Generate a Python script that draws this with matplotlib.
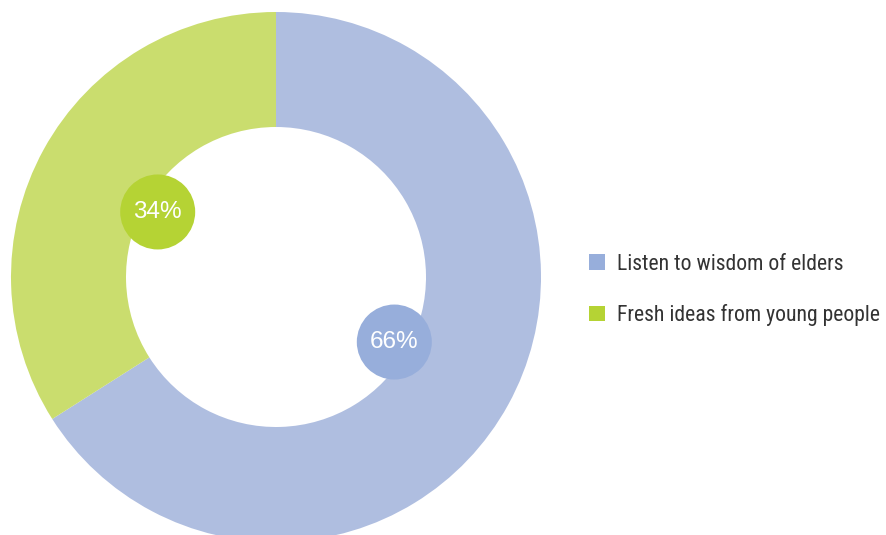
import numpy as np
import matplotlib.pyplot as plt
from matplotlib.patches import Patch, Circle
from matplotlib import font_manager

labels = ["Listen to wisdom of elders", "Fresh ideas from young people"]
values = [66, 34]
wedge_colors = ["#AFBEE0", "#CADD6E"]
badge_colors = ["#97AEDB", "#B5D334"]

names = {f.name for f in font_manager.fontManager.ttflist}
narrow = [n for n in ["Roboto Condensed", "Liberation Sans Narrow", "Roboto"] if n in names]

fig = plt.figure(figsize=(8.86, 5.35), dpi=100)
ax = fig.add_axes([0, 0, 1, 1])

cx, cy = 276, 258
R, width = 265, 115

ax.pie(values, colors=wedge_colors, startangle=90, counterclock=False,
       center=(cx, cy), radius=R, wedgeprops=dict(width=width, linewidth=0),
       frame=True)
ax.set_xlim(0, 886)
ax.set_ylim(0, 535)
ax.set_aspect("equal")
ax.axis("off")

# percentage badges sitting on the inner edge of the ring
start = 90
for v, c in zip(values, badge_colors):
    mid = np.deg2rad(start - v / sum(values) * 360 / 2)
    start -= v / sum(values) * 360
    bx = cx + 135 * np.cos(mid)
    by = cy + 135 * np.sin(mid)
    ax.add_patch(Circle((bx, by), 37.5, color=c, lw=0, zorder=3))
    ax.text(bx, by, f"{v}%", color="white", fontsize=17.5,
            family=["Liberation Sans", "DejaVu Sans"],
            ha="center", va="center", zorder=4)

fs = 15.7
handles = [Patch(facecolor=c, edgecolor="none") for c in badge_colors]
leg = ax.legend(handles, labels, loc="center left",
                bbox_to_anchor=(569 / 886, 1 - 290 / 535),
                frameon=False, handlelength=0.73, handleheight=0.73,
                handletextpad=0.55, labelspacing=1.34,
                prop=dict(family=narrow + ["DejaVu Sans"], size=fs))
for t in leg.get_texts():
    t.set_color("#333333")

fig.savefig("out.png", dpi=100)
